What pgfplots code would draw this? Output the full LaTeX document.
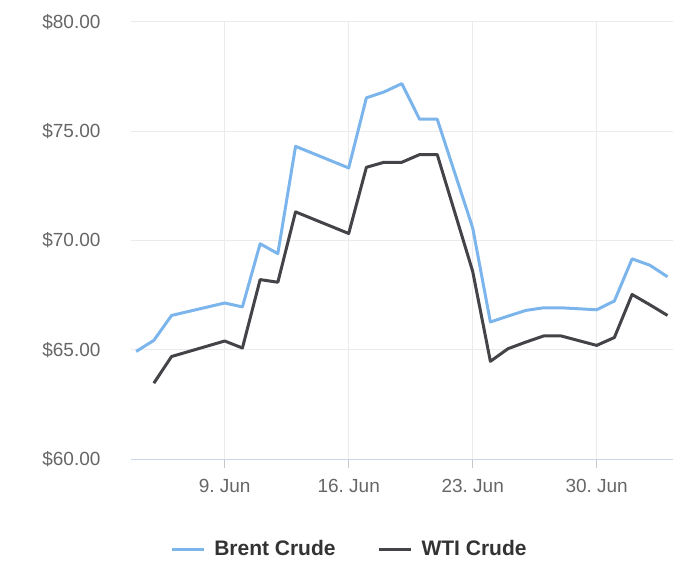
\documentclass[border=0pt]{standalone}
\usepackage{pgfplots}
\pgfplotsset{compat=1.18}
\usepackage{fontspec}
\setmainfont{Liberation Sans}
\definecolor{brent}{HTML}{7CB5EC}
\definecolor{wti}{HTML}{434348}
\definecolor{gridc}{HTML}{EBEBEB}
\definecolor{axisc}{HTML}{CCD6EB}
\definecolor{tickc}{HTML}{C8C8C8}
\definecolor{labc}{HTML}{666666}
\definecolor{legc}{HTML}{333333}
\begin{document}
\begin{tikzpicture}
\useasboundingbox (0,0) rectangle (700bp,575bp);
\begin{axis}[
  at={(131bp,116bp)}, anchor=south west,
  scale only axis, width=542bp, height=437bp,
  xmin=3.71, xmax=34.31, ymin=60, ymax=80,
  axis x line=bottom, axis y line*=left,
  x axis line style={draw=axisc, line width=1bp, -},
  y axis line style={draw=none},
  tick align=outside,
  major tick length=9bp,
  xtick={9,16,23,30},
  xticklabels={9.\ Jun,16.\ Jun,23.\ Jun,30.\ Jun},
  ytick={60,65,70,75,80},
  yticklabels={\$60.00,\$65.00,\$70.00,\$75.00,\$80.00},
  x tick style={draw=tickc, line width=1bp},
  y tick style={draw=none},
  ticklabel style={font=\fontsize{19bp}{22bp}\selectfont, text=labc},
  xticklabel style={yshift=-8bp},
  yticklabel style={xshift=-18bp},
  grid=major,
  major grid style={draw=gridc, line width=1bp},
  legend style={at={(0.403,-0.206)}, anchor=center, draw=none, fill=none,
    font=\fontsize{21bp}{24bp}\selectfont\bfseries, text=legc,
    legend columns=2,
    /tikz/every even column/.append style={column sep=40bp}},
  legend image code/.code={\draw[#1, line width=3bp] (0bp,0bp) -- (32bp,0bp); \path (39bp,0bp);},
]
\addplot[brent, line width=3bp, line join=round] coordinates {
(4,64.92) (5,65.43) (6,66.57) (9,67.14) (10,66.96) (11,69.85) (12,69.40)
(13,74.31) (16,73.32) (17,76.53) (18,76.80) (19,77.18) (20,75.55) (21,75.55)
(23,70.58) (24,66.27) (25,66.54) (26,66.80) (27,66.92) (28,66.92) (30,66.83)
(31,67.23) (32,69.16) (33,68.87) (34,68.34)
};
\addlegendentry{Brent Crude}
\addplot[wti, line width=3bp, line join=round] coordinates {
(5,63.47) (6,64.69) (9,65.40) (10,65.08) (11,68.21) (12,68.09)
(13,71.31) (16,70.32) (17,73.35) (18,73.58) (19,73.58) (20,73.93) (21,73.93)
(23,68.59) (24,64.47) (25,65.05) (26,65.35) (27,65.63) (28,65.63) (30,65.20)
(31,65.56) (32,67.53) (33,67.06) (34,66.57)
};
\addlegendentry{WTI Crude}
\end{axis}
\end{tikzpicture}
\end{document}
